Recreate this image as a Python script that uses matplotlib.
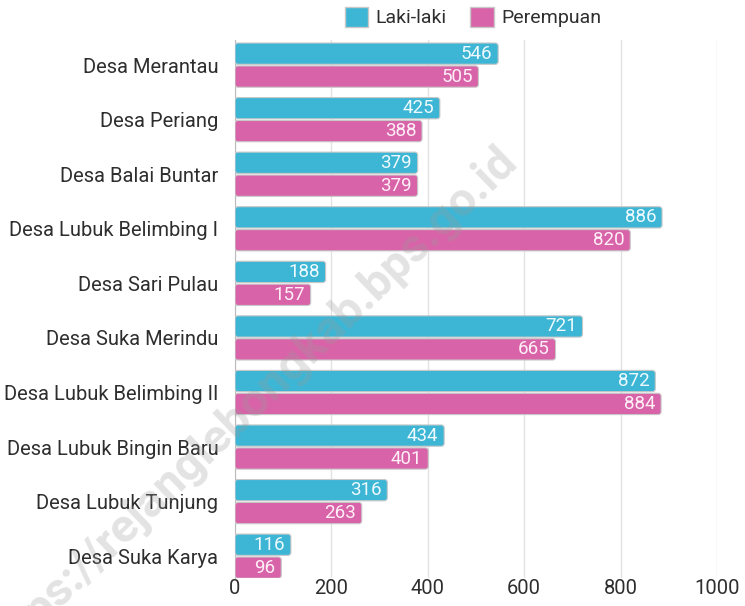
import matplotlib
matplotlib.use('Agg')
import matplotlib.pyplot as plt
from matplotlib.patches import FancyBboxPatch, Patch

plt.rcParams['font.family'] = ['Roboto', 'DejaVu Sans']

# data
desa = ['Desa Merantau', 'Desa Periang', 'Desa Balai Buntar', 'Desa Lubuk Belimbing I',
        'Desa Sari Pulau', 'Desa Suka Merindu', 'Desa Lubuk Belimbing II',
        'Desa Lubuk Bingin Baru', 'Desa Lubuk Tunjung', 'Desa Suka Karya']
laki = [546, 425, 379, 886, 188, 721, 872, 434, 316, 116]
perempuan = [505, 388, 379, 820, 157, 665, 884, 401, 263, 96]
xticks = [0, 200, 400, 600, 800, 1000]

c_laki = '#3db6d5'
c_pr = '#d963a8'
txt = '#2e2e2e'

fig = plt.figure(figsize=(7.45, 6.06), dpi=100)
ax = fig.add_axes([235 / 745, 1 - 578 / 606, (717 - 235) / 745, (578 - 40) / 606])

h = 0.39
off = 0.21
pos = list(range(len(desa)))
b1 = ax.barh([p - off for p in pos], laki, height=h, color=c_laki)
b2 = ax.barh([p + off for p in pos], perempuan, height=h, color=c_pr)

ax.set_xlim(0, 1000)
ax.set_ylim(9.4, -0.46)

# sudut batang dibulatkan
aspect = (1 / 54.5) / (1000 / 482)
for bars, col in [(b1, c_laki), (b2, c_pr)]:
    for r in bars.patches:
        x, y, w, hh = r.get_x(), r.get_y(), r.get_width(), r.get_height()
        r.set_visible(False)
        fb = FancyBboxPatch((x, y), w, hh, boxstyle='round,pad=0,rounding_size=6',
                            mutation_aspect=aspect, facecolor=col,
                            edgecolor='#c8c8c8', linewidth=0.8, zorder=3)
        ax.add_patch(fb)

for p, v in zip(pos, laki):
    ax.text(v - 12, p - off, str(v), ha='right', va='center', color='#eefaff',
            fontsize=13.5, zorder=4)
for p, v in zip(pos, perempuan):
    ax.text(v - 12, p + off, str(v), ha='right', va='center', color='#fff0f8',
            fontsize=13.5, zorder=4)

ax.set_yticks(pos)
ax.set_yticklabels(desa, fontsize=14.5, color=txt)
ax.set_xticks(xticks)
ax.set_xticklabels([str(t) for t in xticks], fontsize=14.5, color=txt)
ax.tick_params(axis='y', length=0, pad=12)
ax.tick_params(axis='x', length=0, pad=1)
ax.grid(axis='x', color='#e2e2e2', linewidth=1)
ax.set_axisbelow(True)
for s in ['top', 'right', 'bottom']:
    ax.spines[s].set_visible(False)
ax.spines['left'].set_color('#bbbbbb')

handles = [Patch(facecolor=c_laki, edgecolor='#c8c8c8', label='Laki-laki'),
           Patch(facecolor=c_pr, edgecolor='#c8c8c8', label='Perempuan')]
fig.legend(handles=handles, loc='center', bbox_to_anchor=(473 / 745, 1 - 17 / 606),
           ncol=2, frameon=False, fontsize=14, handlelength=1.2, handleheight=1.2,
           handletextpad=0.4, columnspacing=1.2, labelcolor=txt)

# watermark (sengaja terpotong di kiri bawah seperti aslinya)
fig.text(250 / 745, 1 - 406 / 606, 'https://rejanglebongkab.bps.go.id', rotation=44,
         ha='center', va='center', fontsize=34, fontweight='bold', color='#9a9a9a',
         alpha=0.28, zorder=10)

fig.savefig('out.png', dpi=100)
